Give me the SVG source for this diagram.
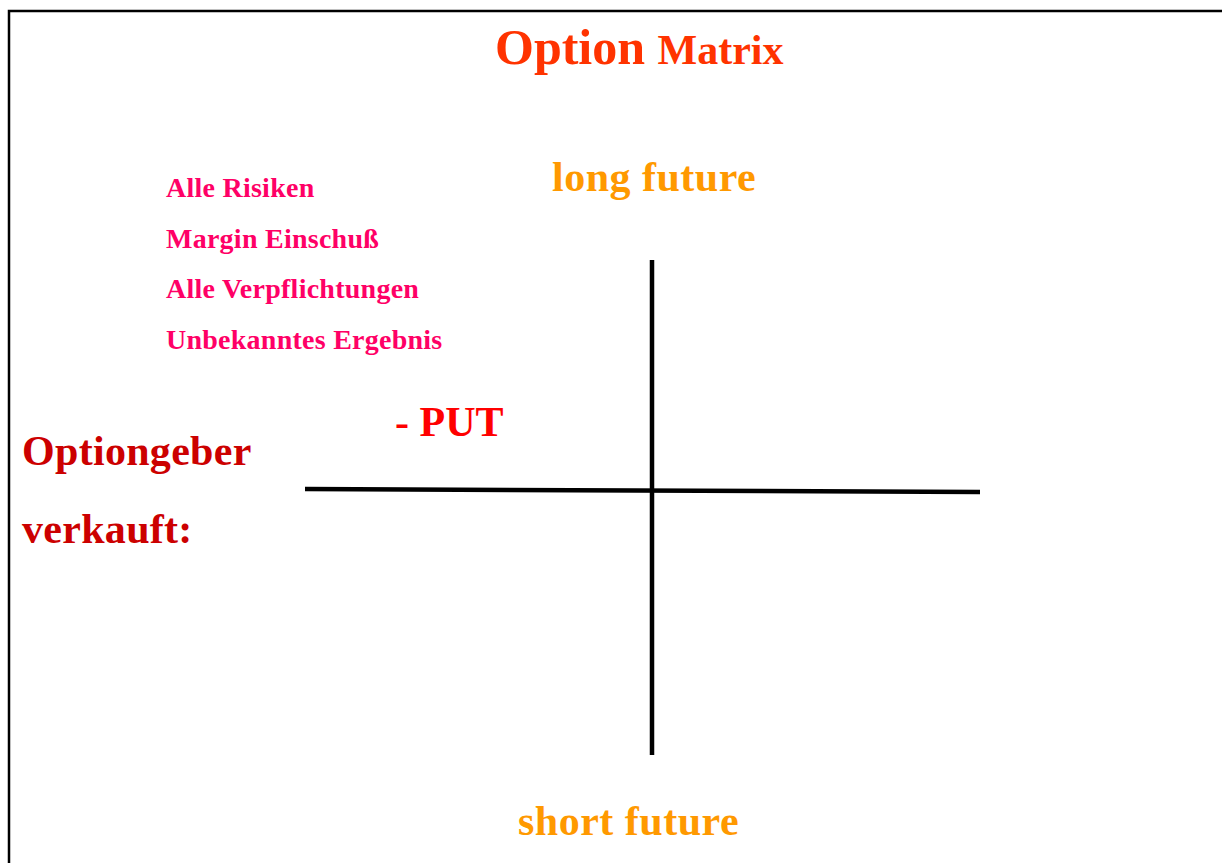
<svg xmlns="http://www.w3.org/2000/svg" width="1222" height="863" viewBox="0 0 1222 863">
<style>
text{font-family:"Liberation Serif","Times New Roman",serif;font-weight:bold}
.pink{fill:#FF0066;font-size:28px;letter-spacing:0.25px}
.orange{fill:#FF9900;font-size:42px;letter-spacing:0.5px}
.dark{fill:#CC0000;font-size:42px;letter-spacing:0.3px}
.axis{stroke:#000;stroke-width:4.5;fill:none}
</style>
<rect id="frame" x="9" y="11" width="1240" height="880" fill="#fff" stroke="#000" stroke-width="2.5"/>
<g id="title"><text x="495" y="64" fill="#FF3300" font-size="50">Option <tspan font-size="42">Matrix</tspan></text></g>
<g id="connectors">
<line class="axis" x1="652" y1="260" x2="652" y2="755"/>
<line class="axis" x1="305" y1="489" x2="980" y2="492"/>
</g>
<g id="long-future"><text class="orange" x="552" y="191">long future</text></g>
<g id="short-future"><text class="orange" x="518" y="835">short future</text></g>
<g id="risks">
<text class="pink" x="166" y="197">Alle Risiken</text>
<text class="pink" x="166" y="248">Margin Einschuß</text>
<text class="pink" x="166" y="298">Alle Verpflichtungen</text>
<text class="pink" x="166" y="349">Unbekanntes Ergebnis</text>
</g>
<g id="put"><text x="395" y="436" fill="#FF0000" font-size="42">- PUT</text></g>
<g id="optiongeber">
<text class="dark" x="22" y="465">Optiongeber</text>
<text class="dark" x="22" y="543">verkauft:</text>
</g>
</svg>
